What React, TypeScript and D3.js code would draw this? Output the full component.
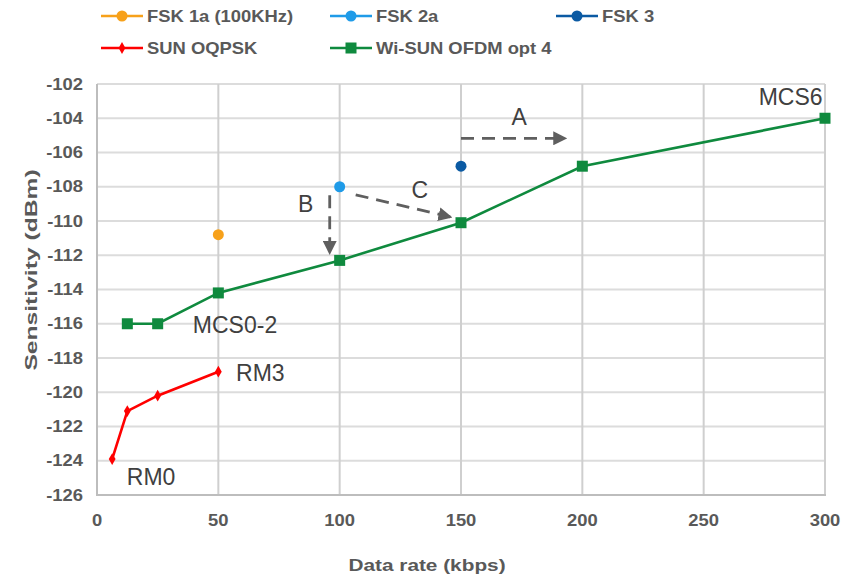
import React from "react";
import * as d3 from "d3";

// series
const fsk1aRate = [50];
const fsk1aSens = [-110.8];
const fsk2aRate = [100];
const fsk2aSens = [-108.0];
const fsk3Rate = [150];
const fsk3Sens = [-106.8];
const oqpskRate = [6.25, 12.5, 25, 50];
const oqpskSens = [-123.9, -121.1, -120.2, -118.8];
const ofdmRate = [12.5, 25, 50, 100, 150, 200, 300];
const ofdmSens = [-116.0, -116.0, -114.2, -112.3, -110.1, -106.8, -104.0];

const xTicks = [0, 50, 100, 150, 200, 250, 300];
const yTicks = [-102, -104, -106, -108, -110, -112, -114, -116, -118, -120, -122, -124, -126];

const legendNames = ["FSK 1a (100KHz)", "FSK 2a", "FSK 3", "SUN OQPSK", "Wi-SUN OFDM opt 4"];
const legendColors = ["#f7a11a", "#1f9be8", "#0b5aa3", "#ff0000", "#0f8a3e"];
const legendShapes = ["circle", "circle", "circle", "diamond", "square"];

// text labels in data coordinates: [text, x, y, anchor]
const notes: [string, number, number, string][] = [
  ["MCS6", 299, -103.2, "end"],
  ["MCS0-2", 39.5, -116.55, "start"],
  ["RM3", 57.3, -119.35, "start"],
  ["RM0", 12.3, -125.4, "start"],
  ["A", 174, -104.4, "middle"],
  ["B", 86, -109.5, "middle"],
  ["C", 133, -108.65, "middle"],
];

// dashed arrows: [x1, y1, x2, y2]
const arrows: [number, number, number, number][] = [
  [150, -105.17, 193.2, -105.17],
  [95.9, -108.5, 95.9, -111.9],
  [106.6, -108.47, 145.9, -109.77],
];

const W = 857;
const H = 578;
const left = 97;
const right = 825;
const top = 84;
const bottom = 495;

const x = d3.scaleLinear().domain([0, 300]).range([left, right]);
const y = d3.scaleLinear().domain([-126, -102]).range([bottom, top]);

const FONT = "'Liberation Sans', Arial, sans-serif";
const TXT = "#595959";
const STRETCH = 1.15;

const Marker = ({ shape, cx, cy, color }: { shape: string; cx: number; cy: number; color: string }) => {
  if (shape === "square") return <rect x={cx - 5.5} y={cy - 5.5} width={11} height={11} fill={color} />;
  if (shape === "diamond")
    return <path d={d3.symbol(d3.symbolDiamond, 40)() || ""} transform={`translate(${cx},${cy})`} fill={color} />;
  return <circle cx={cx} cy={cy} r={5.5} fill={color} />;
};

// bold gray label, a bit wider than the font draws it
const BoldText = ({ tx, ty, anchor, size, k, rot, children }: any) => (
  <text
    transform={`translate(${tx},${ty}) rotate(${rot || 0}) scale(${k},1)`}
    textAnchor={anchor}
    dominantBaseline="central"
    fontFamily={FONT}
    fontWeight="bold"
    fontSize={size}
    fill={TXT}
  >
    {children}
  </text>
);

export default function App() {
  const line = d3
    .line<[number, number]>()
    .x((d) => x(d[0]))
    .y((d) => y(d[1]));

  const series = [
    { r: fsk1aRate, s: fsk1aSens },
    { r: fsk2aRate, s: fsk2aSens },
    { r: fsk3Rate, s: fsk3Sens },
    { r: oqpskRate, s: oqpskSens },
    { r: ofdmRate, s: ofdmSens },
  ];

  const legendX = [101, 330, 556, 101, 330];
  const legendY = [16, 16, 16, 48, 48];

  return (
    <svg
      width={W}
      height={H}
      style={{ position: "fixed", left: 0, top: 0, background: "#fff" }}
      fontFamily={FONT}
    >
      <defs>
        <marker id="ah" viewBox="0 0 10 10" refX="9" refY="5" markerWidth="5" markerHeight="5" orient="auto" markerUnits="strokeWidth">
          <path d="M0,0 L10,5 L0,10 z" fill="#5f5f5f" />
        </marker>
      </defs>

      {/* grid */}
      {yTicks.slice(0, -1).map((t) => (
        <line key={"hy" + t} x1={left} x2={right} y1={y(t)} y2={y(t)} stroke="#dcdcdc" strokeWidth={2} />
      ))}
      {xTicks.slice(1).map((t) => (
        <line key={"vx" + t} x1={x(t)} x2={x(t)} y1={top} y2={bottom} stroke="#cfcfcf" strokeWidth={2} />
      ))}
      <line x1={left} x2={left} y1={top} y2={bottom + 1} stroke="#bdbdbd" strokeWidth={2} />
      <line x1={left} x2={right + 1} y1={bottom} y2={bottom} stroke="#bdbdbd" strokeWidth={2} />

      {/* tick labels */}
      {yTicks.map((t) => (
        <BoldText key={"yl" + t} tx={83} ty={y(t)} anchor="end" size={16} k={STRETCH}>
          {t}
        </BoldText>
      ))}
      {xTicks.map((t) => (
        <BoldText key={"xl" + t} tx={x(t)} ty={520} anchor="middle" size={16} k={STRETCH}>
          {t}
        </BoldText>
      ))}
      <BoldText tx={427} ty={565} anchor="middle" size={16} k={1.3}>
        Data rate (kbps)
      </BoldText>
      <BoldText tx={31} ty={270} anchor="middle" size={17} k={1.45} rot={-90}>
        Sensitivity (dBm)
      </BoldText>

      {/* series */}
      {series.map((sr, i) => (
        <g key={"s" + i}>
          {sr.r.length > 1 && (
            <path
              d={line(sr.r.map((v, j) => [v, sr.s[j]] as [number, number])) || ""}
              fill="none"
              stroke={legendColors[i]}
              strokeWidth={2.6}
            />
          )}
          {sr.r.map((v, j) => (
            <Marker key={j} shape={legendShapes[i]} cx={x(v)} cy={y(sr.s[j])} color={legendColors[i]} />
          ))}
        </g>
      ))}

      {/* arrows */}
      {arrows.map((a, i) => (
        <line
          key={"a" + i}
          x1={x(a[0])}
          y1={y(a[1])}
          x2={x(a[2])}
          y2={y(a[3])}
          stroke="#5f5f5f"
          strokeWidth={2.8}
          strokeDasharray="13 8"
          markerEnd="url(#ah)"
        />
      ))}

      {/* annotations */}
      {notes.map((n, i) => (
        <text
          key={"n" + i}
          x={x(n[1])}
          y={y(n[2])}
          textAnchor={n[3]}
          fontSize={23}
          fill="#404040"
          fontFamily={FONT}
        >
          {n[0]}
        </text>
      ))}

      {/* legend */}
      {legendNames.map((nm, i) => (
        <g key={"lg" + i}>
          <line x1={legendX[i]} x2={legendX[i] + 42} y1={legendY[i]} y2={legendY[i]} stroke={legendColors[i]} strokeWidth={2.6} />
          <Marker shape={legendShapes[i]} cx={legendX[i] + 21} cy={legendY[i]} color={legendColors[i]} />
          <BoldText tx={legendX[i] + 46} ty={legendY[i]} anchor="start" size={16} k={STRETCH}>
            {nm}
          </BoldText>
        </g>
      ))}
    </svg>
  );
}
